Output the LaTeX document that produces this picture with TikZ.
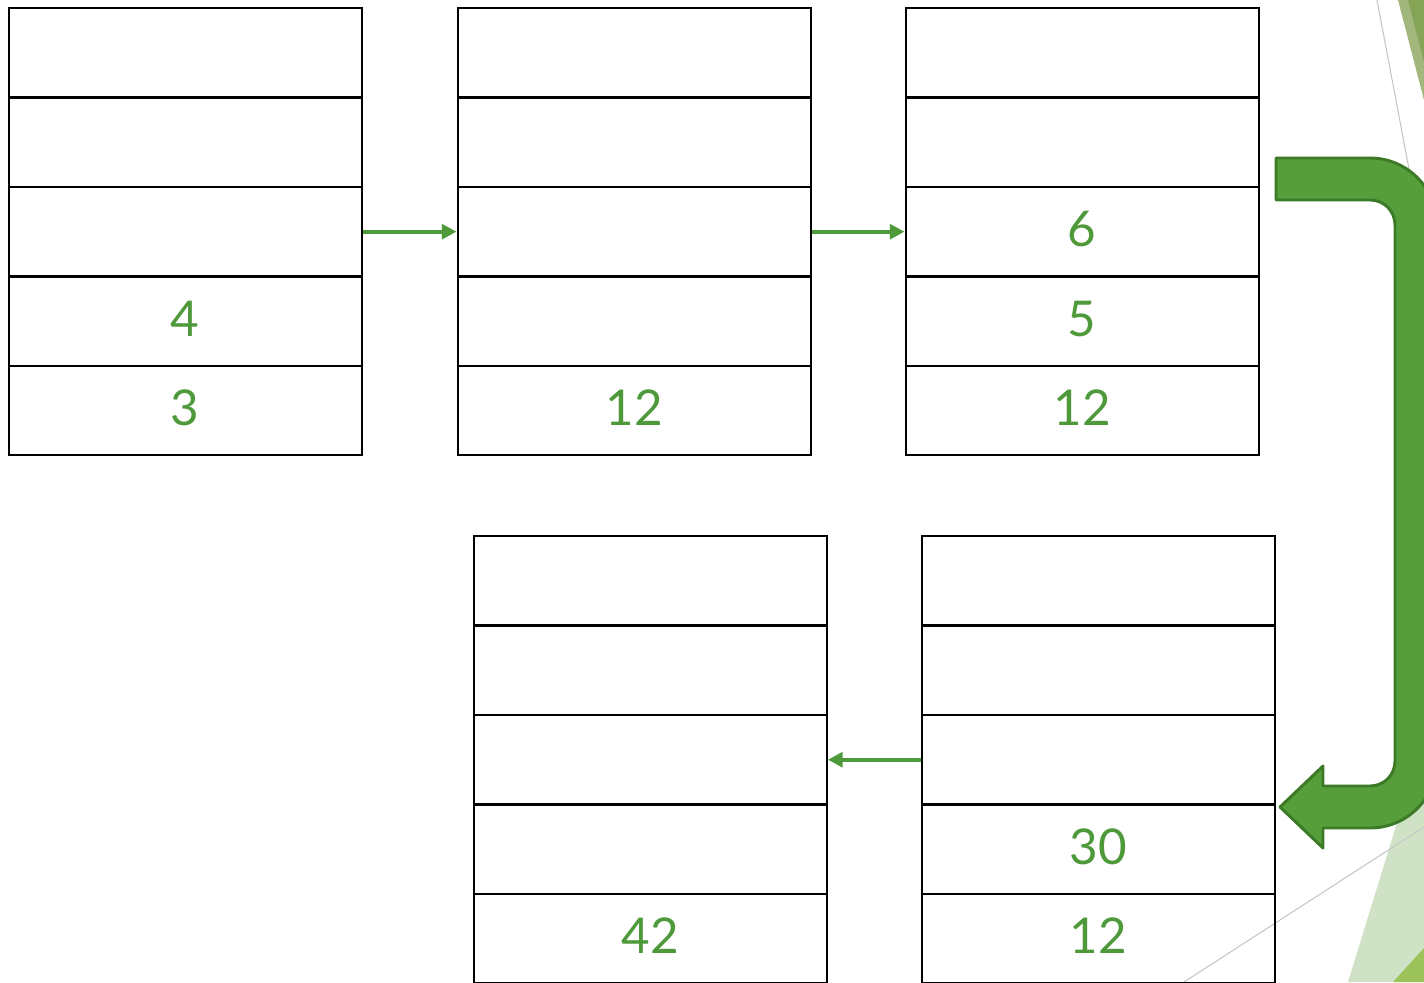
\documentclass[tikz,border=0pt]{standalone}
\usepackage{fontspec}
\setmainfont{Lato}
\usetikzlibrary{arrows.meta}
\definecolor{tgreen}{HTML}{4E9A3A}
\definecolor{bigfill}{HTML}{559E3A}
\definecolor{bigedge}{HTML}{3D7A27}
\definecolor{olivelight}{HTML}{A2B77B}
\definecolor{olivedark}{HTML}{86A456}
\definecolor{palegreen}{HTML}{CFE2C5}
\definecolor{leafgreen}{HTML}{9CC25A}
\tikzset{
  cell/.style={draw=black, line width=1.8pt, minimum width=264.75pt, minimum height=67.05pt,
    inner sep=0pt, anchor=north west, text=tgreen, font=\fontsize{37}{40}\selectfont},
  sarrow/.style={draw=tgreen, line width=3.3pt, -{Triangle[length=11pt,width=11pt]}},
  sshadow/.style={draw=black!12, line width=3.5pt},
  bigarrow/.style={fill=bigfill, draw=bigedge, line width=2.2pt, line join=round},
  deco/.style={draw=black!22, line width=0.8pt}
}
\newcommand\rtxt[1]{\raisebox{3.8pt}{#1}}
\newcommand\mystack[8]{%
  \node[cell] (#1c1) at (#2,#3) {\rtxt{#4}};
  \node[cell] (#1c2) at (#2,#3+89.4) {\rtxt{#5}};
  \node[cell] (#1c3) at (#2,#3+178.8) {\rtxt{#6}};
  \node[cell] (#1c4) at (#2,#3+268.2) {\rtxt{#7}};
  \node[cell] (#1c5) at (#2,#3+357.6) {\rtxt{#8}};
}
\begin{document}
\begin{tikzpicture}[x=0.75pt,y=-0.75pt]
\clip (0,0) rectangle (1424,982);
\fill[white] (0,0) rectangle (1424,982);
% background decoration
\fill[olivelight] (1398,0) -- (1424,0) -- (1424,100) -- cycle;
\fill[olivedark] (1408,0) -- (1424,0) -- (1424,62) -- cycle;
\fill[palegreen] (1348,982) -- (1424,735) -- (1424,982) -- cycle;
\fill[leafgreen] (1393,982) -- (1424,948) -- (1424,982) -- cycle;
\draw[deco] (1184,982) -- (1424,827);
\draw[deco] (1377,0) -- (1412,185);
% stacks
\mystack{s1}{7.5}{7}{}{}{}{4}{3}
\mystack{s2}{456.5}{7}{}{}{}{}{12}
\mystack{s3}{904.5}{7}{}{}{6}{5}{12}
\mystack{s4}{472.5}{535}{}{}{}{}{42}
\mystack{s5}{920.5}{535}{}{}{}{30}{12}
% small arrows
\draw[sarrow] (s1c3.east) -- (s2c3.west);
\draw[sarrow] (s2c3.east) -- (s3c3.west);
\draw[sarrow] (s5c3.west) -- (s4c3.east);
% big bent arrow
\path[bigarrow] (1276,158) -- (1370,158)
  .. controls (1407,158) and (1437,188) .. (1437,225)
  -- (1437,761)
  .. controls (1437,798) and (1407,828) .. (1370,828)
  -- (1323,828) -- (1323,848) -- (1280,807) -- (1323,766) -- (1323,786)
  -- (1370,786)
  .. controls (1384,786) and (1395,775) .. (1395,761)
  -- (1395,225)
  .. controls (1395,211) and (1384,200) .. (1370,200)
  -- (1276,200) -- cycle;
\end{tikzpicture}
\end{document}
